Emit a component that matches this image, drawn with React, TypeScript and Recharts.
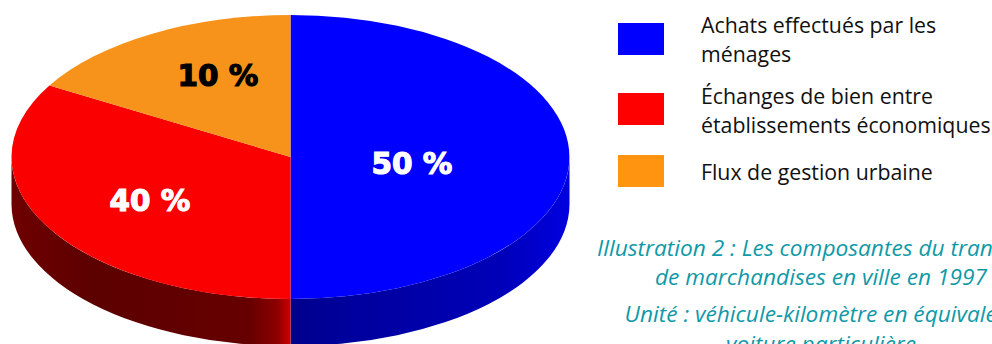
import React from "react";
import { PieChart, Pie, Cell } from "recharts";

// parts of the total, in %
const sliceNames = ["Achats effectués par les ménages", "Échanges de bien entre établissements économiques", "Flux de gestion urbaine"];
const sliceValues = [50, 40, 10];
const sliceColors = ["#0000ff", "#fb0000", "#f7931a"];
const labelColors = ["#ffffff", "#ffffff", "#000000"];

const legendColors = ["#0000ff", "#ff0000", "#ff9410"];
const legendLines = [
    ["Achats effectués par les", "ménages"],
    ["Échanges de bien entre", "établissements économiques"],
    ["Flux de gestion urbaine"],
];
const captionLines = [
    "Illustration 2 : Les composantes du transport",
    "de marchandises en ville en 1997",
    "Unité : véhicule-kilomètre en équivalent",
    "voiture particulière",
];

// layout
const WIDTH = 992;
const HEIGHT = 344;
const CX = 290.5;
const CY = 157;
const RX = 279;
const RY = 142;
const DEPTH = 47;
const TILT = 25; // how far the back of the disc is stretched, in degrees
const labelSpots = [
    { x: 412, y: 164 },
    { x: 150, y: 201 },
    { x: 218, y: 76 },
];
const legendRows = [
    { box: 23, baselines: [33, 62] },
    { box: 93, baselines: [104, 133] },
    { box: 155, baselines: [180] },
];
const captionBaselines = [256, 285, 322, 352];

const rad = (deg: number) => (deg * Math.PI) / 180;

// slice angle -> angle on the tilted disc
const project = (deg: number) => deg + TILT * Math.sin(rad(2 * (deg - 90)));

const pointAt = (deg: number, drop = 0) => {
    const x = CX + RX * Math.cos(rad(deg));
    const y = CY - RY * Math.sin(rad(deg)) + drop;
    return `${x.toFixed(2)} ${y.toFixed(2)}`;
};

const rimFills = ["url(#rimBlue)", "url(#rimRed)", "none"];

function DiscSlice(props: any) {
    const from = project(props.startAngle);
    const to = project(props.endAngle);
    const large = Math.abs(from - to) > 180 ? 1 : 0;
    const top = `M ${CX} ${CY} L ${pointAt(from)} A ${RX} ${RY} 0 ${large} 1 ${pointAt(to)} Z`;

    // the side wall only shows on the front half
    const rimFrom = Math.min(from, 0);
    const rimTo = Math.max(to, -180);
    const hasRim = rimFrom > rimTo;
    const rim = `M ${pointAt(rimFrom)} A ${RX} ${RY} 0 0 1 ${pointAt(rimTo)} L ${pointAt(rimTo, DEPTH)} A ${RX} ${RY} 0 0 0 ${pointAt(rimFrom, DEPTH)} Z`;

    return (
        <g>
            {hasRim && <path d={rim} fill={rimFills[props.index]} />}
            <path d={top} fill={props.fill} />
        </g>
    );
}

function SliceLabel(props: any) {
    const spot = labelSpots[props.index];
    const color = labelColors[props.index];
    return (
        <text
            x={spot.x}
            y={spot.y}
            textAnchor="middle"
            dominantBaseline="central"
            fontFamily="'DejaVu Sans', sans-serif"
            fontWeight={700}
            fontSize={29.5}
            fill={color}
            stroke={color}
            strokeWidth={1.2}
        >
            {`${props.value} %`}
        </text>
    );
}

const data = sliceNames.map((name, i) => ({ name, value: sliceValues[i] }));

export default function App() {
    return (
        <div style={{ position: "absolute", left: 0, top: 0, width: WIDTH, height: HEIGHT, overflow: "hidden", background: "#fff" }}>
            <PieChart width={WIDTH} height={HEIGHT} margin={{ top: 0, right: 0, bottom: 0, left: 0 }}>
                <defs>
                    <linearGradient id="rimBlue" gradientUnits="userSpaceOnUse" x1={290} y1={0} x2={570} y2={0}>
                        <stop offset="0" stopColor="#00008c" />
                        <stop offset="0.2" stopColor="#00009c" />
                        <stop offset="0.75" stopColor="#0000b8" />
                        <stop offset="1" stopColor="#0000e0" />
                    </linearGradient>
                    <linearGradient id="rimRed" gradientUnits="userSpaceOnUse" x1={12} y1={0} x2={291} y2={0}>
                        <stop offset="0" stopColor="#6e0000" />
                        <stop offset="0.3" stopColor="#5c0000" />
                        <stop offset="0.85" stopColor="#660000" />
                        <stop offset="0.95" stopColor="#8c0000" />
                        <stop offset="1" stopColor="#d00000" />
                    </linearGradient>
                </defs>
                <Pie
                    data={data}
                    dataKey="value"
                    nameKey="name"
                    cx={CX}
                    cy={CY}
                    outerRadius={RX}
                    startAngle={90}
                    endAngle={-270}
                    stroke="none"
                    shape={DiscSlice}
                    label={SliceLabel}
                    labelLine={false}
                    isAnimationActive={false}
                >
                    {sliceColors.map((c) => (
                        <Cell key={c} fill={c} />
                    ))}
                </Pie>

                {/* legend */}
                <g fontFamily="'Open Sans', sans-serif" fontSize={21.3} fill="#111">
                    {legendRows.map((row, i) => (
                        <g key={i}>
                            <rect x={618} y={row.box} width={46} height={32} fill={legendColors[i]} />
                            {legendLines[i].map((line, j) => (
                                <text key={j} x={701} y={row.baselines[j]}>
                                    {line}
                                </text>
                            ))}
                        </g>
                    ))}
                </g>

                {/* caption */}
                <g fontFamily="'Open Sans', sans-serif" fontStyle="italic" fontSize={22.7} fill="#0f99a8" textAnchor="middle">
                    {captionLines.map((line, i) => (
                        <text key={i} x={821} y={captionBaselines[i]}>
                            {line}
                        </text>
                    ))}
                </g>
            </PieChart>
        </div>
    );
}
